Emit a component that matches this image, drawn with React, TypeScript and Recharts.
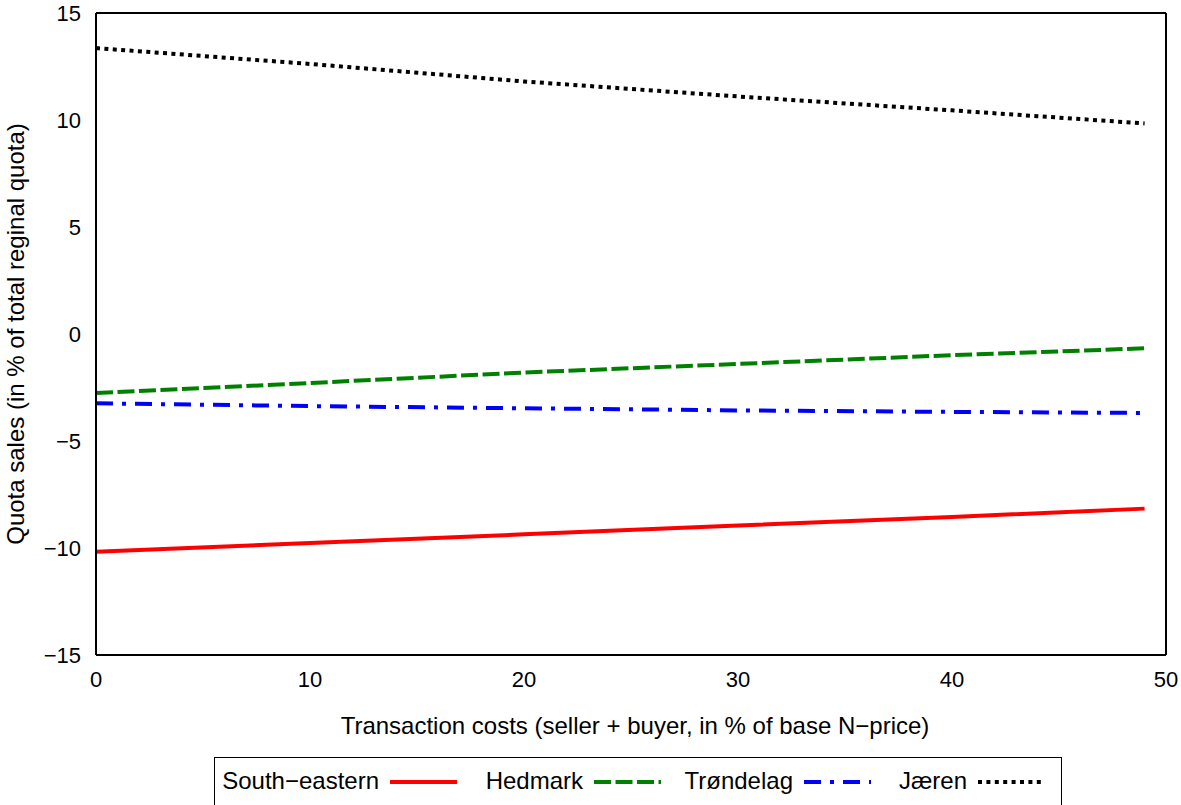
import React from "react";
import { LineChart, Line, XAxis, YAxis } from "recharts";

// ---- data ----
const xValues = [0, 10, 20, 30, 40, 49];
const southEastern = [-10.17, -9.77, -9.36, -8.95, -8.55, -8.16];
const hedmark = [-2.76, -2.29, -1.8, -1.4, -0.99, -0.67];
const trondelag = [-3.24, -3.37, -3.47, -3.57, -3.64, -3.69];
const jaeren = [13.36, 12.62, 11.8, 11.1, 10.45, 9.84];

const xTicks = [0, 10, 20, 30, 40, 50];
const yTicks = [-15, -10, -5, 0, 5, 10, 15];

const xTitle = "Transaction costs (seller + buyer, in % of base N\u2212price)";
const yTitle = "Quota sales (in % of total reginal quota)";

const data = xValues.map((x, i) => ({
  x,
  se: southEastern[i],
  he: hedmark[i],
  tr: trondelag[i],
  ja: jaeren[i],
}));

const series = [
  { key: "se", name: "South\u2212eastern", color: "#ff0000", dash: undefined as string | undefined, sampleLeft: 175 },
  { key: "he", name: "Hedmark", color: "#008000", dash: "17 4.5", sampleLeft: 379 },
  { key: "tr", name: "Tr\u00f8ndelag", color: "#0000ff", dash: "17 9 4 9", sampleLeft: 589 },
  { key: "ja", name: "J\u00e6ren", color: "#000000", dash: "4 4.4", sampleLeft: 763 },
];

const FONT = '"Liberation Sans", Arial, Helvetica, sans-serif';
const fmt = (v: number) => (v < 0 ? "\u2212" + Math.abs(v) : String(v));
const frame = { stroke: "#000", strokeWidth: 2 };

const YTitle = (props: any) => {
  const vb = props.viewBox || { x: 0, y: 13, width: 96, height: 642 };
  const cx = 15;
  const cy = vb.y + vb.height / 2;
  return (
    <text
      x={cx}
      y={cy}
      transform={`rotate(-90, ${cx}, ${cy})`}
      textAnchor="middle"
      dominantBaseline="central"
      fontSize={24}
      fontFamily={FONT}
      fill="#000"
    >
      {yTitle}
    </text>
  );
};

const XTitle = (props: any) => {
  const vb = props.viewBox || { x: 96, y: 655, width: 1070, height: 80 };
  return (
    <text
      x={vb.x + vb.width / 2 + 4}
      y={725}
      textAnchor="middle"
      dominantBaseline="central"
      fontSize={24}
      fontFamily={FONT}
      fill="#000"
    >
      {xTitle}
    </text>
  );
};

export default function App() {
  return (
    <div
      style={{
        position: "absolute",
        left: 0,
        top: 0,
        width: 1181,
        height: 805,
        overflow: "hidden",
        background: "#fff",
        fontFamily: FONT,
      }}
    >
      <LineChart
        width={1181}
        height={805}
        data={data}
        margin={{ top: 13, right: 15, bottom: 70, left: 0 }}
      >
        <XAxis
          dataKey="x"
          type="number"
          domain={[0, 50]}
          ticks={xTicks}
          allowDataOverflow
          height={80}
          axisLine={false}
          tickLine={false}
          tickSize={0}
          tickMargin={16}
          tick={{ fill: "#000", fontSize: 22, fontFamily: FONT }}
          label={<XTitle />}
        />
        <XAxis
          xAxisId="top"
          orientation="top"
          mirror
          type="number"
          domain={[0, 50]}
          ticks={xTicks}
          allowDataOverflow
          tick={false}
          tickSize={14}
          axisLine={frame}
          tickLine={frame}
        />
        <XAxis
          xAxisId="bm"
          orientation="bottom"
          mirror
          type="number"
          domain={[0, 50]}
          ticks={xTicks}
          allowDataOverflow
          tick={false}
          tickSize={14}
          axisLine={frame}
          tickLine={frame}
        />
        <YAxis
          type="number"
          domain={[-15, 15]}
          ticks={yTicks}
          allowDataOverflow
          width={96}
          axisLine={false}
          tickLine={false}
          tickSize={0}
          tickMargin={15}
          tickFormatter={fmt}
          tick={{ fill: "#000", fontSize: 22, fontFamily: FONT }}
          label={<YTitle />}
        />
        <YAxis
          yAxisId="lm"
          orientation="left"
          mirror
          type="number"
          domain={[-15, 15]}
          ticks={yTicks}
          allowDataOverflow
          tick={false}
          tickSize={14}
          axisLine={frame}
          tickLine={frame}
        />
        <YAxis
          yAxisId="rm"
          orientation="right"
          mirror
          type="number"
          domain={[-15, 15]}
          ticks={yTicks}
          allowDataOverflow
          tick={false}
          tickSize={14}
          axisLine={frame}
          tickLine={frame}
        />
        {series.map((s) => (
          <Line
            key={s.key}
            dataKey={s.key}
            name={s.name}
            type="linear"
            stroke={s.color}
            strokeWidth={4}
            strokeDasharray={s.dash}
            dot={false}
            activeDot={false}
            isAnimationActive={false}
          />
        ))}
      </LineChart>
      <div
        style={{
          position: "absolute",
          left: 214,
          top: 757,
          width: 848,
          height: 70,
          border: "1px solid #000",
          boxSizing: "border-box",
        }}
      >
        {series.map((s) => (
          <React.Fragment key={s.key}>
            <div
              style={{
                position: "absolute",
                right: 848 - s.sampleLeft + 9,
                top: 11,
                fontSize: 24,
                lineHeight: "24px",
                whiteSpace: "nowrap",
                color: "#000",
              }}
            >
              {s.name}
            </div>
            <svg
              style={{ position: "absolute", left: s.sampleLeft, top: 20 }}
              width={67}
              height={8}
            >
              <line
                x1={0}
                y1={4}
                x2={67}
                y2={4}
                stroke={s.color}
                strokeWidth={4}
                strokeDasharray={s.dash}
              />
            </svg>
          </React.Fragment>
        ))}
      </div>
    </div>
  );
}
